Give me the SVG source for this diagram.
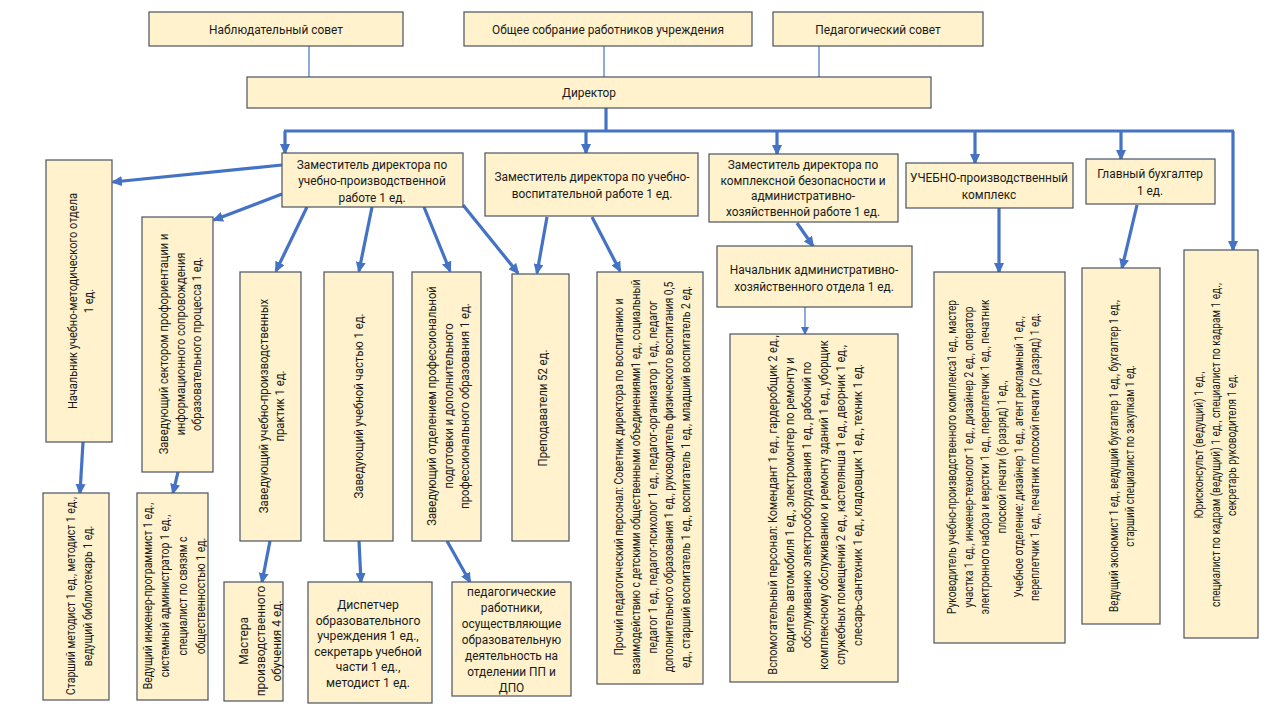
<svg xmlns="http://www.w3.org/2000/svg" width="1280" height="720" viewBox="0 0 1280 720">
<defs>
<style>
.box{fill:#FFF2CC;stroke:#4A5363;stroke-width:1.2}
.t{font-family:Roboto,"Liberation Sans",sans-serif;fill:#1a1a1a;text-anchor:middle}
.s13{font-size:13.5px}
.s12{font-size:12.5px}
.c{stroke:#4472C4;stroke-width:3.2;fill:none}
.a{stroke:#4472C4;stroke-width:3.2;fill:none;marker-end:url(#ah)}
.thin{stroke:#4472C4;stroke-width:1.2;fill:none}
</style>
<marker id="ah" markerWidth="11" markerHeight="10" refX="9" refY="5" orient="auto" markerUnits="userSpaceOnUse"><path d="M0,0 L11,5 L0,10 z" fill="#4472C4"/></marker>
<marker id="ahs" markerWidth="8" markerHeight="8" refX="7" refY="4" orient="auto" markerUnits="userSpaceOnUse"><path d="M0,0 L8,4 L0,8 z" fill="#4472C4"/></marker>
</defs>
<rect width="1280" height="720" fill="#ffffff"/>

<g id="connectors">
<line class="thin" x1="309" y1="46" x2="309" y2="77"/>
<line class="thin" x1="604" y1="46" x2="604" y2="77"/>
<line class="thin" x1="819" y1="46" x2="819" y2="77"/>
<line class="c" x1="606" y1="108" x2="606" y2="131"/>
<line class="c" x1="284" y1="131" x2="1234" y2="131"/>
<line class="a" x1="285" y1="131" x2="285" y2="153"/>
<line class="a" x1="586" y1="131" x2="586" y2="153"/>
<line class="a" x1="777" y1="131" x2="777" y2="154"/>
<line class="a" x1="975" y1="131" x2="975" y2="163"/>
<line class="a" x1="1121" y1="131" x2="1121" y2="159"/>
<line class="a" x1="1233" y1="131" x2="1233" y2="250"/>
<line class="a" x1="282" y1="165" x2="113" y2="182"/>
<line class="a" x1="282" y1="194" x2="214" y2="220"/>
<line class="a" x1="307" y1="207" x2="276" y2="271"/>
<line class="a" x1="372" y1="207" x2="359" y2="271"/>
<line class="a" x1="424" y1="207" x2="450" y2="271"/>
<line class="a" x1="463" y1="205" x2="518" y2="273"/>
<line class="a" x1="547" y1="217" x2="537" y2="273"/>
<line class="a" x1="592" y1="217" x2="620" y2="271"/>
<line class="a" x1="797" y1="223" x2="813" y2="246"/>
<line class="thin" x1="805" y1="307" x2="805" y2="334" style="marker-end:url(#ahs)"/>
<line class="a" x1="999" y1="208" x2="999" y2="272"/>
<line class="a" x1="1137" y1="205" x2="1122" y2="268"/>
<line class="a" x1="83" y1="442" x2="80" y2="493"/>
<line class="a" x1="178" y1="472" x2="173" y2="493"/>
<line class="a" x1="270" y1="541" x2="262" y2="582"/>
<line class="a" x1="359" y1="541" x2="361" y2="582"/>
<line class="a" x1="447" y1="541" x2="470" y2="582"/>
</g>

<g id="n-nabl"><rect class="box" x="149" y="12" width="254" height="34"/><text class="t s13" transform="translate(276,34) scale(0.88,1)">Наблюдательный совет</text></g>
<g id="n-obsh"><rect class="box" x="464" y="12" width="288" height="34"/><text class="t s13" transform="translate(608,34) scale(0.88,1)">Общее собрание работников учреждения</text></g>
<g id="n-ped"><rect class="box" x="773" y="12" width="210" height="34"/><text class="t s13" transform="translate(878,34) scale(0.88,1)">Педагогический совет</text></g>
<g id="n-dir"><rect class="box" x="247" y="77" width="684" height="31"/><text class="t s13" transform="translate(589,97) scale(0.88,1)">Директор</text></g>

<g id="n-dep1"><rect class="box" x="282" y="153" width="181" height="54"/><text class="t s13" transform="translate(372,169) scale(0.88,1)"><tspan x="0">Заместитель директора по</tspan><tspan x="0" dy="16.5">учебно-производственной</tspan><tspan x="0" dy="16.5">работе 1 ед.</tspan></text></g>
<g id="n-dep2"><rect class="box" x="485" y="153" width="213" height="63"/><text class="t s13" transform="translate(592,181) scale(0.88,1)"><tspan x="0">Заместитель директора по учебно-</tspan><tspan x="0" dy="17">воспитательной работе 1 ед.</tspan></text></g>
<g id="n-dep3"><rect class="box" x="709" y="154" width="189" height="68"/><text class="t s13" transform="translate(803,169) scale(0.88,1)"><tspan x="0">Заместитель директора по</tspan><tspan x="0" dy="15.7">комплексной безопасности и</tspan><tspan x="0" dy="15.7">административно-</tspan><tspan x="0" dy="15.7">хозяйственной работе 1 ед.</tspan></text></g>
<g id="n-upk"><rect class="box" x="906" y="163" width="167" height="45"/><text class="t s13" transform="translate(989,182) scale(0.88,1)"><tspan x="0">УЧЕБНО-производственный</tspan><tspan x="0" dy="17">комплекс</tspan></text></g>
<g id="n-buh"><rect class="box" x="1086" y="159" width="129" height="45"/><text class="t s13" transform="translate(1150,178) scale(0.88,1)"><tspan x="0">Главный бухгалтер</tspan><tspan x="0" dy="17">1 ед.</tspan></text></g>
<g id="n-aho"><rect class="box" x="717" y="246" width="195" height="61"/><text class="t s13" transform="translate(814,274) scale(0.88,1)"><tspan x="0">Начальник административно-</tspan><tspan x="0" dy="17">хозяйственного отдела 1 ед.</tspan></text></g>

<g id="n-umo"><rect class="box" x="46" y="160" width="66" height="282"/><text class="t s13" transform="translate(80.5,301) rotate(-90) scale(0.82,1)"><tspan x="0" y="-4">Начальник учебно-методического отдела</tspan><tspan x="0" dy="17">1 ед.</tspan></text></g>
<g id="n-sektor"><rect class="box" x="142" y="217" width="71" height="255"/><text class="t s13" transform="translate(180,344) rotate(-90) scale(0.82,1)"><tspan x="0" y="-12.5">Заведующий сектором профориентации и</tspan><tspan x="0" dy="17">информационного сопровождения</tspan><tspan x="0" dy="17">образовательного процесса 1 ед.</tspan></text></g>
<g id="n-prakt"><rect class="box" x="240" y="272" width="61" height="269"/><text class="t s13" transform="translate(271.5,406) rotate(-90) scale(0.84,1)"><tspan x="0" y="-4">Заведующий учебно-производственных</tspan><tspan x="0" dy="17">практик 1 ед.</tspan></text></g>
<g id="n-uchch"><rect class="box" x="324" y="272" width="69" height="269"/><text class="t s13" transform="translate(358,406) rotate(-90) scale(0.84,1)"><tspan x="0" y="4.5">Заведующий учебной частью 1 ед.</tspan></text></g>
<g id="n-ppdpo"><rect class="box" x="412" y="272" width="69" height="269"/><text class="t s13" transform="translate(448,406) rotate(-90) scale(0.83,1)"><tspan x="0" y="-12">Заведующий отделением профессиональной</tspan><tspan x="0" dy="16.5">подготовки и дополнительного</tspan><tspan x="0" dy="16.5">профессионального образования 1 ед.</tspan></text></g>
<g id="n-prep"><rect class="box" x="512" y="274" width="57" height="267"/><text class="t s13" transform="translate(542,408) rotate(-90) scale(0.84,1)"><tspan x="0" y="4.5">Преподаватели 52 ед.</tspan></text></g>
<g id="n-proch"><rect class="box" x="597" y="272" width="106" height="412"/><text class="t s12" transform="translate(652.5,477) rotate(-90) scale(0.83,1)"><tspan x="0" y="-30">Прочий педагогический персонал: Советник директора по воспитанию и</tspan><tspan x="0" dy="17">взаимодействию с детскими общественными объединениями1 ед., социальный</tspan><tspan x="0" dy="17">педагог 1 ед., педагог-психолог 1 ед., педагог-организатор 1 ед., педагог</tspan><tspan x="0" dy="17">дополнительного образования 1 ед., руководитель физического воспитания 0,5</tspan><tspan x="0" dy="17">ед., старший воспитатель 1 ед., воспитатель 1 ед., младший воспитатель 2 ед.</tspan></text></g>
<g id="n-vspom"><rect class="box" x="730" y="334" width="168" height="348"/><text class="t s12" transform="translate(815.5,505) rotate(-90) scale(0.88,1)"><tspan x="0" y="-38.5">Вспомогательный персонал: Комендант 1 ед., гардеробщик 2 ед.,</tspan><tspan x="0" dy="17">водитель автомобиля 1 ед., электромонтер по ремонту и</tspan><tspan x="0" dy="17">обслуживанию электрооборудования 1 ед.,  рабочий по</tspan><tspan x="0" dy="17">комплексному обслуживанию и ремонту зданий 1 ед., уборщик</tspan><tspan x="0" dy="17">служебных помещений 2 ед., кастелянша 1 ед., дворник 1 ед.,</tspan><tspan x="0" dy="17">слесарь-сантехник 1 ед., кладовщик 1 ед., техник 1 ед.</tspan></text></g>
<g id="n-rukupk"><rect class="box" x="934" y="272" width="131" height="371"/><text class="t s12" transform="translate(993.5,457) rotate(-90) scale(0.81,1)"><tspan x="0" y="-37.5">Руководитель учебно-производственного комплекса1 ед., мастер</tspan><tspan x="0" dy="16.7">участка 1 ед., инженер-технолог 1 ед., дизайнер 2 ед., оператор</tspan><tspan x="0" dy="16.7">электронного набора и верстки 1 ед., переплетчик 1 ед., печатник</tspan><tspan x="0" dy="16.7">плоской печати  (6 разряд) 1 ед.,</tspan><tspan x="0" dy="16.7">Учебное отделение:  дизайнер 1 ед., агент рекламный 1 ед.,</tspan><tspan x="0" dy="16.7">переплетчик 1 ед., печатник плоской печати (2 разряд) 1 ед.</tspan></text></g>
<g id="n-econ"><rect class="box" x="1082" y="268" width="78" height="356"/><text class="t s12" transform="translate(1121.5,456) rotate(-90) scale(0.79,1)"><tspan x="0" y="-4">Ведущий экономист 1 ед., ведущий бухгалтер 1 ед., бухгалтер 1 ед.,</tspan><tspan x="0" dy="17">старший специалист по закупкам 1 ед.</tspan></text></g>
<g id="n-yur"><rect class="box" x="1184" y="250" width="74" height="388"/><text class="t s12" transform="translate(1215,445) rotate(-90) scale(0.81,1)"><tspan x="0" y="-12.5">Юрисконсульт (ведущий)  1 ед.,</tspan><tspan x="0" dy="17">специалист по кадрам (ведущий) 1 ед., специалист по кадрам 1 ед.,</tspan><tspan x="0" dy="17">секретарь руководителя 1 ед.</tspan></text></g>

<g id="n-metod"><rect class="box" x="43" y="493" width="66" height="207"/><text class="t s12" transform="translate(79,596) rotate(-90) scale(0.84,1)"><tspan x="0" y="-4.5">Старший методист 1 ед., методист 1 ед.,</tspan><tspan x="0" dy="17.5">ведущий библиотекарь 1 ед.</tspan></text></g>
<g id="n-inzh"><rect class="box" x="137" y="493" width="71" height="207"/><text class="t s12" transform="translate(173.5,596) rotate(-90) scale(0.84,1)"><tspan x="0" y="-22">Ведущий инженер-программист 1 ед.,</tspan><tspan x="0" dy="17.7">системный администратор 1 ед.,</tspan><tspan x="0" dy="17.7">специалист по связям с</tspan><tspan x="0" dy="17.7">общественностью 1 ед.</tspan></text></g>
<g id="n-master"><rect class="box" x="224" y="582" width="59" height="119"/><text class="t s13" transform="translate(260,641) rotate(-90) scale(0.88,1)"><tspan x="0" y="-12.5">Мастера</tspan><tspan x="0" dy="17">производственного</tspan><tspan x="0" dy="17">обучения 4 ед.</tspan></text></g>
<g id="n-disp"><rect class="box" x="308" y="582" width="124" height="121"/><text class="t s13" transform="translate(368,609) scale(0.9,1)"><tspan x="0">Диспетчер</tspan><tspan x="0" dy="15.6">образовательного</tspan><tspan x="0" dy="15.6">учреждения 1 ед.,</tspan><tspan x="0" dy="15.6">секретарь учебной</tspan><tspan x="0" dy="15.6">части 1 ед.,</tspan><tspan x="0" dy="15.6">методист 1 ед.</tspan></text></g>
<g id="n-pedrab"><rect class="box" x="452" y="582" width="119" height="114"/><text class="t s13" transform="translate(511.5,596) scale(0.88,1)"><tspan x="0">педагогические</tspan><tspan x="0" dy="16">работники,</tspan><tspan x="0" dy="16">осуществляющие</tspan><tspan x="0" dy="16">образовательную</tspan><tspan x="0" dy="16">деятельность на</tspan><tspan x="0" dy="16">отделении ПП и</tspan><tspan x="0" dy="16">ДПО</tspan></text></g>
</svg>
